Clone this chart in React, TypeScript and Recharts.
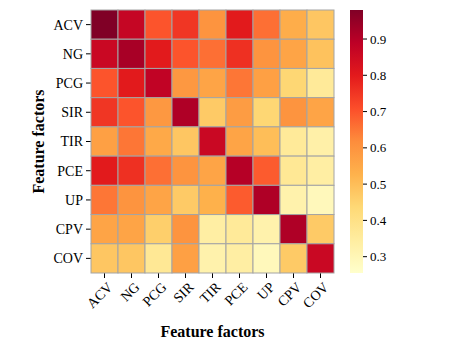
import React from 'react';
import { ScatterChart, Scatter, XAxis, YAxis, BarChart, Bar } from 'recharts';

const factors = ['ACV', 'NG', 'PCG', 'SIR', 'TIR', 'PCE', 'UP', 'CPV', 'COV'];

// one row per feature, columns in the same order as `factors`
const rowACV = [0.98, 0.87, 0.7, 0.75, 0.6, 0.8, 0.66, 0.54, 0.48];
const rowNG = [0.86, 0.92, 0.8, 0.7, 0.66, 0.76, 0.6, 0.56, 0.49];
const rowPCG = [0.7, 0.8, 0.88, 0.59, 0.56, 0.65, 0.57, 0.44, 0.36];
const rowSIR = [0.75, 0.7, 0.59, 0.91, 0.47, 0.58, 0.44, 0.6, 0.56];
const rowTIR = [0.57, 0.65, 0.55, 0.48, 0.86, 0.56, 0.5, 0.36, 0.33];
const rowPCE = [0.8, 0.76, 0.66, 0.6, 0.56, 0.9, 0.69, 0.37, 0.34];
const rowUP = [0.65, 0.6, 0.56, 0.47, 0.53, 0.69, 0.91, 0.32, 0.29];
const rowCPV = [0.56, 0.56, 0.46, 0.6, 0.34, 0.36, 0.32, 0.91, 0.47];
const rowCOV = [0.48, 0.48, 0.37, 0.57, 0.32, 0.34, 0.29, 0.47, 0.86];

const colorTicks = [0.3, 0.4, 0.5, 0.6, 0.7, 0.8, 0.9];
const vMin = 0.255;
const vMax = 0.98;

const matrix = [rowACV, rowNG, rowPCG, rowSIR, rowTIR, rowPCE, rowUP, rowCPV, rowCOV];

// YlOrRd
const ylorrd = ['#ffffcc', '#ffeda0', '#fed976', '#feb24c', '#fd8d3c', '#fc4e2a', '#e31a1c', '#bd0026', '#800026'];

const hex = (h: string) => [1, 3, 5].map(i => parseInt(h.slice(i, i + 2), 16));

function colorFor(v: number) {
  const t = Math.min(1, Math.max(0, (v - vMin) / (vMax - vMin)));
  const pos = t * (ylorrd.length - 1);
  const i = Math.min(ylorrd.length - 2, Math.floor(pos));
  const f = pos - i;
  const a = hex(ylorrd[i]);
  const b = hex(ylorrd[i + 1]);
  const c = a.map((x, k) => Math.round(x + (b[k] - x) * f));
  return `rgb(${c[0]},${c[1]},${c[2]})`;
}

const cells = matrix.flatMap((row, i) => row.map((v, j) => ({ x: j + 0.5, y: i + 0.5, v })));
const cellTicks = factors.map((_, i) => i + 0.5);

const W = 471;
const H = 339;
const plotLeft = 91;
const plotRight = 334;
const plotTop = 10;
const plotBottom = 273;
const cellW = (plotRight - plotLeft) / factors.length;
const cellH = (plotBottom - plotTop) / factors.length;

const font = '"Liberation Serif", "Times New Roman", serif';

function XTick(props: any) {
  const { x, y, payload } = props;
  return (
    <g transform={`translate(${x + 9},${y + 8})`}>
      <text x={0} y={0} textAnchor="end" transform="rotate(-45)" fontSize={14} fontFamily={font} fill="#000">
        {factors[Math.floor(payload.value)]}
      </text>
    </g>
  );
}

function CellShape(props: any) {
  const { cx, cy, payload } = props;
  return (
    <rect
      x={cx - cellW / 2}
      y={cy - cellH / 2}
      width={cellW}
      height={cellH}
      fill={colorFor(payload.v)}
      stroke="#a4a4a4"
      strokeWidth={1}
    />
  );
}

export default function App() {
  return (
    <div style={{ position: 'absolute', left: 0, top: 0, width: W, height: H, background: '#fff', fontFamily: font }}>
      <ScatterChart
        width={W}
        height={H}
        margin={{ top: plotTop, right: W - plotRight, bottom: 0, left: 0 }}
      >
        <XAxis
          type="number"
          dataKey="x"
          domain={[0, 9]}
          ticks={cellTicks}
          interval={0}
          axisLine={false}
          tickLine={{ stroke: '#000' }}
          tickSize={5}
          height={H - plotBottom}
          tick={<XTick />}
          label={(p: any) => {
            const vb = p.viewBox;
            return (
              <text
                x={vb.x + vb.width / 2}
                y={337}
                textAnchor="middle"
                fontSize={16}
                fontWeight="bold"
                fontFamily={font}
                fill="#000"
              >
                Feature factors
              </text>
            );
          }}
        />
        <YAxis
          type="number"
          dataKey="y"
          domain={[0, 9]}
          reversed
          ticks={cellTicks}
          interval={0}
          axisLine={false}
          tickLine={{ stroke: '#000' }}
          tickSize={5}
          tickMargin={3}
          width={plotLeft}
          tick={{ fill: '#000', fontSize: 14, fontFamily: font }}
          tickFormatter={(v: number) => factors[Math.floor(v)]}
          label={(p: any) => {
            const vb = p.viewBox;
            const cy = vb.y + vb.height / 2;
            return (
              <text
                x={38}
                y={cy}
                transform={`rotate(-90 38 ${cy})`}
                textAnchor="middle"
                dominantBaseline="central"
                fontSize={16}
                fontWeight="bold"
                fontFamily={font}
                fill="#000"
              >
                Feature factors
              </text>
            );
          }}
        />
        <Scatter data={cells} shape={<CellShape />} isAnimationActive={false} />
      </ScatterChart>

      <div style={{ position: 'absolute', left: 350, top: 0 }}>
        <BarChart
          width={70}
          height={H}
          data={[{ name: 'scale', range: [vMin, vMax] }]}
          margin={{ top: plotTop, right: 0, bottom: H - plotBottom, left: 0 }}
          barCategoryGap={0}
        >
          <defs>
            <linearGradient id="ylorrd" x1="0" y1="1" x2="0" y2="0">
              {ylorrd.map((c, i) => (
                <stop key={c} offset={i / (ylorrd.length - 1)} stopColor={c} />
              ))}
            </linearGradient>
          </defs>
          <XAxis dataKey="name" hide />
          <YAxis
            orientation="right"
            type="number"
            domain={[vMin, vMax]}
            ticks={colorTicks}
            axisLine={false}
            tickLine={{ stroke: '#000' }}
            tickSize={4}
            tickMargin={3}
            width={57}
            tick={{ fill: '#000', fontSize: 13, fontFamily: font }}
            tickFormatter={(v: number) => v.toFixed(1)}
          />
          <Bar dataKey="range" fill="url(#ylorrd)" isAnimationActive={false} />
        </BarChart>
      </div>
    </div>
  );
}
